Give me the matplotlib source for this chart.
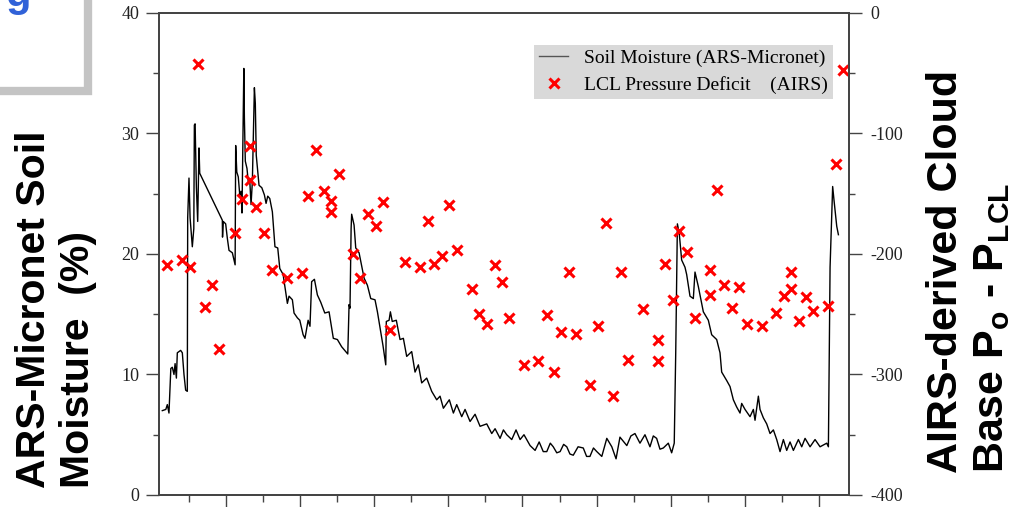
import numpy as np
import matplotlib
matplotlib.use("Agg")
import matplotlib.pyplot as plt
from matplotlib.patches import Rectangle
from matplotlib.ticker import MultipleLocator, FixedLocator

plt.rcParams['mathtext.fontset'] = 'custom'
plt.rcParams['mathtext.rm'] = 'Liberation Sans:bold'
plt.rcParams['mathtext.it'] = 'Liberation Sans:bold'
plt.rcParams['mathtext.bf'] = 'Liberation Sans:bold'
plt.rcParams['axes.unicode_minus'] = False

# soil moisture (ARS-Micronet), day vs %
sm_day = [1.6, 3.5, 4.3, 5.2, 6.2, 7.0, 7.9, 8.5, 9.2, 9.7, 11.5, 12.4, 13.3, 14.2, 15.1,
          15.3, 16.0, 16.6, 17.8, 18.6, 18.9, 19.3, 20.0, 20.7, 21.4, 21.8,
          34.0, 34.1, 34.5, 35.8, 36.7, 37.6, 39.4, 40.9, 41.2, 41.8, 42.6, 43.4, 44.1, 44.6,
          45.6, 45.9, 46.4, 47.3, 48.0, 48.8, 49.5, 50.2, 51.3, 51.8, 52.3, 53.8, 55.3, 56.7,
          57.6, 58.5, 59.6, 61.0, 62.4, 63.9, 65.0, 66.8, 69.1, 70.0, 71.8, 72.7, 74.5, 75.8,
          77.6, 78.6, 80.3, 81.3, 82.2, 83.7, 85.3, 87.1, 89.3, 91.6, 93.9, 96.1, 98.4, 100.6,
          101.7, 102.4, 102.9, 103.5, 103.8, 105.1, 106.0, 107.8, 108.7, 110.5, 112.3, 114.1,
          116.4, 117.7, 120.7, 122.2, 122.5, 124.0, 124.7, 125.7, 127.9,
          129.9, 131.7, 133.5, 136.2, 138.0, 139.8, 141.6, 144.3, 147.0, 149.7, 151.5, 153.3,
          156.5, 158.7, 160.5, 163.2, 165.0, 167.7, 170.4, 173.1, 176.7, 179.4, 181.2, 183.9,
          185.7, 187.5, 190.2, 192.5, 194.7, 196.8, 200.1, 202.8, 205.0, 207.2, 209.1, 211.0,
          212.6, 214.5, 216.3, 218.2, 219.9, 221.6, 223.4, 226.0, 228.8, 230.6, 232.4, 234.3,
          236.1, 238.8, 241.5, 244.2, 246.5, 248.6, 252.3, 254.5, 256.7, 259.4, 262.1, 264.8,
          266.6, 268.4, 270.2, 272.0, 274.7, 276.5, 277.9, 278.7, 279.6, 280.6, 281.9, 283.7,
          284.6, 286.4, 288.2, 289.1, 290.9, 293.6, 296.3, 298.1, 300.8, 302.6, 303.5, 306.2,
          308.0, 309.8, 311.6, 313.4, 314.3, 316.1, 318.8, 320.6, 321.5, 323.3, 324.2, 326.0,
          327.8, 329.6, 331.4, 333.2, 335.0, 336.8, 338.6, 340.4, 342.2, 344.9, 346.7, 348.5,
          351.2, 353.9, 356.6, 360.2, 361.1, 362.0, 363.4, 364.1, 365.6, 366.5]
sm_val = [7.0, 7.1, 7.5, 6.8, 10.5, 10.6, 10.0, 10.9, 9.7, 11.8, 12.0, 11.8, 10.0, 8.7, 8.6,
          23.0, 26.3, 23.0, 20.6, 22.1, 30.7, 30.8, 25.5, 22.7, 28.8, 26.7,
          22.8, 21.4, 22.7, 22.5, 21.3, 20.3, 20.1, 19.1, 29.0, 26.8, 26.4, 24.9, 25.2, 23.4,
          35.4, 31.3, 27.7, 27.1, 26.0, 26.1, 24.1, 26.0, 33.8, 32.5, 28.2, 25.7, 25.5, 24.9,
          24.2, 24.8, 24.6, 23.5, 20.6, 20.5, 18.8, 18.3, 15.9, 16.5, 16.2, 15.1, 14.7, 14.5,
          13.3, 13.0, 14.5, 14.0, 17.7, 17.9, 16.6, 16.0, 15.1, 15.2, 13.0, 12.9, 12.3, 11.9,
          11.7, 15.8, 15.5, 22.1, 23.3, 22.4, 20.5, 20.1, 19.4, 18.0, 17.4, 16.3,
          16.2, 15.2, 12.4, 10.8, 14.4, 14.5, 15.2, 14.4, 14.5,
          12.9, 13.0, 11.5, 11.9, 10.2, 10.8, 9.3, 9.7, 8.6, 7.9, 8.2, 7.2,
          7.9, 6.8, 7.5, 6.5, 7.1, 6.1, 6.7, 5.7, 5.9, 5.1, 5.5, 4.7,
          5.4, 5.0, 4.6, 5.4, 4.6, 5.0, 4.1, 3.7, 4.4, 3.6, 3.6, 4.3,
          4.0, 3.5, 3.6, 4.2, 4.0, 3.4, 3.3, 4.0, 3.9, 3.2, 3.2, 3.9,
          3.6, 3.2, 4.7, 4.0, 3.0, 4.8, 4.1, 4.9, 5.1, 4.3, 5.0, 4.0,
          4.9, 4.7, 3.8, 3.9, 4.3, 3.5, 4.3, 11.8, 22.5, 21.7, 19.5, 18.9,
          18.3, 16.5, 16.3, 18.5, 17.3, 15.2, 14.5, 13.3, 12.9, 11.8, 10.2, 9.5,
          9.0, 7.9, 7.3, 6.8, 7.6, 7.1, 6.5, 7.1, 6.2, 8.2, 7.1, 6.4,
          5.9, 5.1, 5.4, 4.6, 3.6, 4.6, 3.7, 4.4, 3.7, 4.6, 4.0, 4.7,
          4.0, 4.6, 4.0, 4.3, 4.0, 18.9, 25.6, 24.5, 22.3, 21.6]

# LCL pressure deficit (AIRS), day vs hPa
airs_day = [4.3, 12.4, 16.6, 20.9, 24.5, 28.6, 32.2, 40.9, 44.5, 48.8, 48.8, 52.3, 56.7,
            60.7, 68.9, 76.8, 80.4, 84.7, 88.7, 92.7, 92.7, 97.0, 104.5, 108.5, 112.8,
            116.8, 120.7, 124.7, 132.8, 140.7, 145.0, 148.4, 152.7, 156.5, 160.8, 168.8,
            172.7, 176.7, 181.0, 184.9, 188.9, 196.7, 204.5, 209.1, 213.0, 216.9, 221.1,
            224.9, 232.6, 236.9, 241.2, 244.7, 249.0, 252.8, 260.9, 268.9, 268.9, 272.7,
            277.1, 280.6, 284.9, 289.3, 297.2, 297.2, 300.8, 304.9, 309.1, 313.0, 317.3,
            325.1, 333.0, 337.3, 341.1, 341.1, 345.1, 348.8, 353.0, 360.7, 365.2, 368.8]
airs_val = [-209, -205, -211, -42, -244, -226, -279, -183, -154, -110, -139, -161, -183,
            -213, -220, -216, -152, -114, -148, -156, -165, -134, -200, -220, -167,
            -177, -157, -263, -207, -211, -173, -208, -202, -159, -197, -229,
            -250, -258, -209, -223, -253, -292, -289, -251, -298, -265, -215,
            -266, -309, -260, -174, -318, -215, -288, -246, -271, -289, -208,
            -238, -181, -198, -253, -213, -234, -147, -226, -245, -227, -258,
            -260, -249, -235, -215, -229, -256, -236, -247, -243, -125, -47]

fig = plt.figure(figsize=(10.32, 5.07), dpi=100)
ax1 = fig.add_axes([0.1544, 0.0237, 0.6686, 0.9507])
ax2 = ax1.twinx()

line, = ax1.plot(sm_day, sm_val, color='black', lw=1.0)
pts, = ax2.plot(airs_day, airs_val, linestyle='none', marker='x', color='#ff0000',
                markersize=7, markeredgewidth=2.2)

ax1.set_xlim(0, 372.4)
ax1.set_ylim(0, 40)
ax2.set_ylim(-400, 0)

ax1.xaxis.set_major_locator(FixedLocator(np.arange(36, 372, 40)))
ax1.xaxis.set_minor_locator(FixedLocator(np.arange(16, 372, 40)))
ax1.yaxis.set_major_locator(MultipleLocator(10))
ax1.yaxis.set_minor_locator(MultipleLocator(5))
ax2.yaxis.set_major_locator(MultipleLocator(100))
ax2.yaxis.set_minor_locator(MultipleLocator(50))

for ax in (ax1, ax2):
    for s in ax.spines.values():
        s.set_color('#444444')
        s.set_linewidth(1.3)

ax1.tick_params(axis='y', which='major', direction='out', length=9.5, width=1, color='#444444',
                labelsize=13, pad=5, labelcolor='#222222')
ax1.tick_params(axis='y', which='minor', direction='out', length=4.5, width=1, color='#444444')
ax1.tick_params(axis='x', which='major', direction='out', length=10, width=1, color='#444444',
                labelbottom=False)
ax1.tick_params(axis='x', which='minor', direction='out', length=5, width=1, color='#444444')
ax2.tick_params(axis='y', which='major', direction='out', length=9.5, width=1, color='#444444',
                labelsize=13, pad=6, labelcolor='#222222')
ax2.tick_params(axis='y', which='minor', direction='out', length=4.5, width=1, color='#444444')

for lab in ax1.get_yticklabels() + ax2.get_yticklabels():
    lab.set_fontfamily('Liberation Serif')

leg = ax2.legend([line, pts], ['Soil Moisture (ARS-Micronet)', 'LCL Pressure Deficit    (AIRS)'],
                 loc='upper right', bbox_to_anchor=(0.976, 0.934), borderaxespad=0,
                 prop={'family': 'Liberation Serif', 'size': 14}, frameon=True, fancybox=False,
                 handlelength=1.5, handletextpad=0.8, borderpad=0.25, labelspacing=0.45)
leg.get_frame().set_facecolor('#d9d9d9')
leg.get_frame().set_edgecolor('none')
leg.get_frame().set_alpha(1)
leg.get_lines()[0].set_color('#555555')

fig.text(0.0543, 0.0375, 'ARS-Micronet Soil\nMoisture  (%)', rotation=90, ha='center', va='bottom',
         multialignment='left', fontsize=29.5, fontweight='bold', family='Liberation Sans',
         linespacing=1.2)
fig.text(0.9394, 0.067, 'AIRS-derived Cloud\nBase P$_\\mathrm{o}$ - P$_\\mathrm{LCL}$', rotation=90,
         ha='center', va='bottom', multialignment='left', fontsize=31, fontweight='bold',
         family='Liberation Sans', linespacing=1.2)

# cropped title box in the corner
box = Rectangle((-0.1, 0.8205), 0.1848, 0.5, transform=fig.transFigure, facecolor='white',
                edgecolor='#c4c4c4', linewidth=6)
fig.add_artist(box)
fig.text(0.005, 0.988, 'g', fontsize=30, fontweight='bold', family='Liberation Sans',
         color='#3162d8', va='baseline', ha='left')

fig.savefig('out.png', dpi=100)
